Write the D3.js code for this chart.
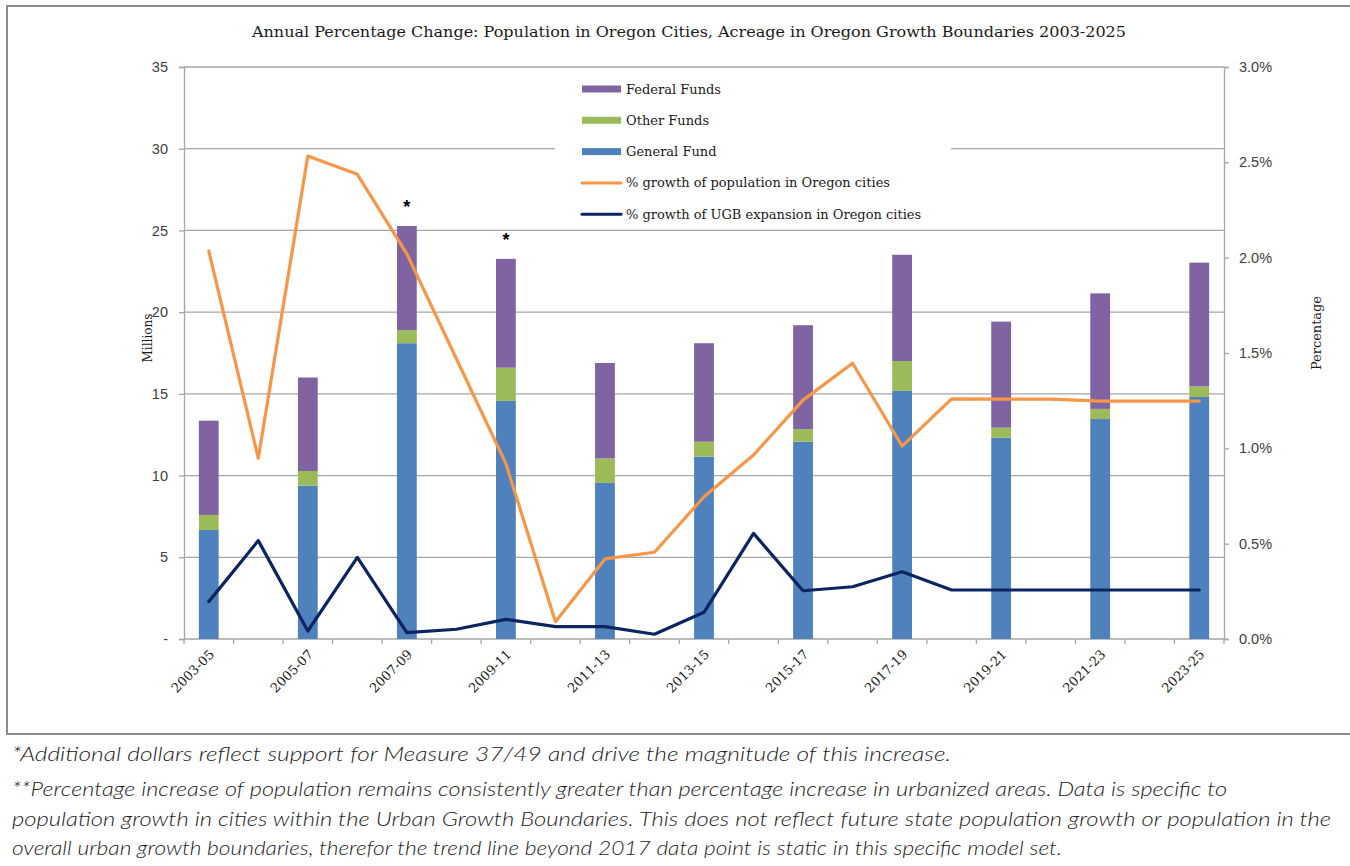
<html>

<head>
  <meta charset="utf-8">
  <script src="https://d3js.org/d3.v7.min.js"></script>
  <style>
    body {
      margin: 0;
      background-color: white;
    }

    .tick text {
      font-family: "Liberation Sans", Arial, sans-serif;
      font-size: 14.5px;
      fill: #404040;
    }

    .serif {
      font-family: "DejaVu Serif", Cambria, serif;
      fill: #1a1a1a;
    }

    .note {
      font-family: Lato, "Open Sans", sans-serif;
      font-style: italic;
      font-weight: 300;
      font-size: 20px;
      fill: #222;
    }
  </style>
</head>

<body>
  <div id="chartDiv"></div>

  <script>
    var width = 1350,
      height = 866;

    // biennium labels (bars sit on every other year slot)
    var bienniums = ["2003-05", "2005-07", "2007-09", "2009-11", "2011-13", "2013-15",
      "2015-17", "2017-19", "2019-21", "2021-23", "2023-25"];

    // stacked funds, millions
    var generalFund = [6.67, 9.38, 18.1, 14.57, 9.55, 11.16, 12.07, 15.18, 12.32, 13.46, 14.81];
    var otherFunds = [0.92, 0.9, 0.8, 2.03, 1.5, 0.91, 0.77, 1.83, 0.61, 0.62, 0.65];
    var federalFunds = [5.77, 5.72, 6.37, 6.66, 5.84, 6.03, 6.36, 6.5, 6.49, 7.07, 7.57];

    // yearly % growth lines, one value per year slot (21 slots)
    var popGrowth = [2.035, 0.948, 2.533, 2.437, 2.02, 1.47, 0.92, 0.091, 0.42, 0.455, 0.746,
      0.965, 1.253, 1.446, 1.012, 1.259, 1.258, 1.258, 1.248, 1.248, 1.248];
    var ugbGrowth = [0.196, 0.516, 0.042, 0.428, 0.033, 0.051, 0.103, 0.065, 0.065, 0.025, 0.14,
      0.554, 0.253, 0.274, 0.353, 0.257, 0.257, 0.257, 0.257, 0.257, 0.257];

    var leftTicks = [0, 5, 10, 15, 20, 25, 30, 35];
    var rightTicks = [0, 0.5, 1.0, 1.5, 2.0, 2.5, 3.0];
    var starred = ["2007-09", "2009-11"];

    var seriesNames = ["General Fund", "Other Funds", "Federal Funds"];
    var seriesCols = {
      "General Fund": "#4f81bd",
      "Other Funds": "#9bbb59",
      "Federal Funds": "#8064a2"
    };
    var popCol = "#f79646",
      ugbCol = "#0b2462",
      gridCol = "#a6a6a6";

    var notes = [
      "*Additional dollars reflect support for Measure 37/49 and drive the magnitude of this increase.",
      "**Percentage increase of population remains consistently greater than percentage increase in urbanized areas. Data is specific to",
      "population growth in cities within the Urban Growth Boundaries. This does not reflect future state population growth or population in the",
      "overall urban growth boundaries, therefor the trend line beyond 2017 data point is static in this specific model set."
    ];
    var noteEnds = [951, 1227, 1331, 1062];

    var plot = { left: 184, right: 1224, top: 67, bottom: 639 };

    var svg = d3.select('#chartDiv').append('svg')
      .attr('width', width)
      .attr('height', height);

    // outer chart frame
    svg.append('rect')
      .attr('x', 7).attr('y', 6)
      .attr('width', 1360).attr('height', 728)
      .attr('fill', 'white')
      .attr('stroke', '#8c8c8c')
      .attr('stroke-width', 2);

    var slots = d3.range(bienniums.length * 2 - 1);

    var x = d3.scaleBand()
      .domain(slots)
      .range([plot.left, plot.right])
      .padding(0);

    var yLeft = d3.scaleLinear().domain([0, 35]).range([plot.bottom, plot.top]);
    var yRight = d3.scaleLinear().domain([0, 3]).range([plot.bottom, plot.top]);

    // gridlines
    svg.append('g')
      .selectAll('line')
      .data(leftTicks.filter(function (d) { return d > 0; }))
      .enter().append('line')
      .attr('x1', plot.left).attr('x2', plot.right)
      .attr('y1', function (d) { return yLeft(d); })
      .attr('y2', function (d) { return yLeft(d); })
      .attr('stroke', gridCol)
      .attr('stroke-width', 1.3);

    // left axis
    var leftAxis = svg.append('g')
      .attr('transform', 'translate(' + plot.left + ',0)')
      .call(d3.axisLeft(yLeft).tickValues(leftTicks).tickSize(5).tickPadding(11)
        .tickFormat(function (d) { return d === 0 ? '-' : d; }));
    leftAxis.selectAll('.domain, line').attr('stroke', gridCol).attr('stroke-width', 1.3);

    // right axis
    var rightAxis = svg.append('g')
      .attr('transform', 'translate(' + plot.right + ',0)')
      .call(d3.axisRight(yRight).tickValues(rightTicks).tickSize(5).tickPadding(10)
        .tickFormat(function (d) { return d.toFixed(1) + '%'; }));
    rightAxis.selectAll('.domain, line').attr('stroke', gridCol).attr('stroke-width', 1.3);

    // bottom axis with ticks between year slots
    var bottomAxis = svg.append('g')
      .attr('transform', 'translate(0,' + plot.bottom + ')');
    bottomAxis.append('line')
      .attr('x1', plot.left).attr('x2', plot.right)
      .attr('stroke', gridCol).attr('stroke-width', 1.3);
    bottomAxis.selectAll('.xtick')
      .data(slots.concat([slots.length]))
      .enter().append('line')
      .attr('class', 'xtick')
      .attr('x1', function (d) { return plot.left + d * x.bandwidth(); })
      .attr('x2', function (d) { return plot.left + d * x.bandwidth(); })
      .attr('y1', 0).attr('y2', 5)
      .attr('stroke', gridCol).attr('stroke-width', 1.3);

    bottomAxis.selectAll('.xlabel')
      .data(bienniums)
      .enter().append('text')
      .attr('class', 'xlabel serif')
      .attr('text-anchor', 'end')
      .attr('dy', '0.35em')
      .attr('transform', function (d, i) {
        var cx = x(i * 2) + x.bandwidth() / 2;
        return 'translate(' + (cx + 3) + ',13) rotate(-45)';
      })
      .style('font-size', '13px')
      .text(function (d) { return d; });

    // stacked bars
    var barRows = bienniums.map(function (b, i) {
      return {
        slot: i * 2,
        name: b,
        "General Fund": generalFund[i],
        "Other Funds": otherFunds[i],
        "Federal Funds": federalFunds[i]
      };
    });

    var stack = d3.stack().keys(seriesNames)(barRows);
    var barW = x.bandwidth() * 0.4;

    svg.append('g')
      .selectAll('g')
      .data(stack)
      .enter().append('g')
      .attr('fill', function (d) { return seriesCols[d.key]; })
      .selectAll('rect')
      .data(function (d) { return d; })
      .enter().append('rect')
      .attr('x', function (d) { return x(d.data.slot) + x.bandwidth() / 2 - barW / 2; })
      .attr('width', barW)
      .attr('y', function (d) { return yLeft(d[1]); })
      .attr('height', function (d) { return yLeft(d[0]) - yLeft(d[1]); });

    // asterisks on the highlighted bars
    svg.append('g')
      .selectAll('text')
      .data(barRows.filter(function (d) { return starred.indexOf(d.name) >= 0; }))
      .enter().append('text')
      .attr('x', function (d) { return x(d.slot) + x.bandwidth() / 2; })
      .attr('y', function (d) {
        return yLeft(d["General Fund"] + d["Other Funds"] + d["Federal Funds"]) - 13;
      })
      .attr('text-anchor', 'middle')
      .style('font-family', '"Liberation Sans", Arial, sans-serif')
      .style('font-weight', 'bold')
      .style('font-size', '18px')
      .text('*');

    // growth lines
    var line = d3.line()
      .x(function (d, i) { return x(i) + x.bandwidth() / 2; })
      .y(function (d) { return yRight(d); });

    svg.append('path')
      .datum(popGrowth)
      .attr('d', line)
      .attr('fill', 'none')
      .attr('stroke', popCol)
      .attr('stroke-width', 3.2)
      .attr('stroke-linejoin', 'round')
      .attr('stroke-linecap', 'round');

    svg.append('path')
      .datum(ugbGrowth)
      .attr('d', line)
      .attr('fill', 'none')
      .attr('stroke', ugbCol)
      .attr('stroke-width', 3.2)
      .attr('stroke-linejoin', 'round')
      .attr('stroke-linecap', 'round');

    // legend
    var legendItems = [
      { name: "Federal Funds", col: seriesCols["Federal Funds"], type: "bar" },
      { name: "Other Funds", col: seriesCols["Other Funds"], type: "bar" },
      { name: "General Fund", col: seriesCols["General Fund"], type: "bar" },
      { name: "% growth of population in Oregon cities", col: popCol, type: "line" },
      { name: "% growth of UGB expansion in Oregon cities", col: ugbCol, type: "line" }
    ];

    var legend = svg.append('g');
    legend.append('rect')
      .attr('x', 555).attr('y', 72)
      .attr('width', 396).attr('height', 154)
      .attr('fill', 'white');

    var legendRow = legend.selectAll('g')
      .data(legendItems)
      .enter().append('g')
      .attr('transform', function (d, i) { return 'translate(582,' + (89 + i * 31.3) + ')'; });

    legendRow.filter(function (d) { return d.type == 'bar'; })
      .append('rect')
      .attr('x', 0).attr('y', -3.5)
      .attr('width', 39).attr('height', 7)
      .attr('fill', function (d) { return d.col; });

    legendRow.filter(function (d) { return d.type == 'line'; })
      .append('line')
      .attr('x1', 0).attr('x2', 39)
      .attr('stroke', function (d) { return d.col; })
      .attr('stroke-width', 3)
      .attr('stroke-linecap', 'round');

    legendRow.append('text')
      .attr('class', 'serif')
      .attr('x', 44)
      .attr('dy', '0.35em')
      .style('font-size', '13px')
      .text(function (d) { return d.name; });

    // title and axis titles
    svg.append('text')
      .attr('class', 'serif')
      .attr('x', 689).attr('y', 37)
      .attr('text-anchor', 'middle')
      .attr('textLength', 874)
      .attr('lengthAdjust', 'spacingAndGlyphs')
      .style('font-size', '14.5px')
      .text("Annual Percentage Change:  Population in Oregon Cities, Acreage in Oregon Growth Boundaries 2003-2025");

    svg.append('text')
      .attr('class', 'serif')
      .attr('transform', 'translate(152,338) rotate(-90)')
      .attr('text-anchor', 'middle')
      .attr('textLength', 49)
      .attr('lengthAdjust', 'spacingAndGlyphs')
      .style('font-size', '12.5px')
      .text('Millions');

    svg.append('text')
      .attr('class', 'serif')
      .attr('transform', 'translate(1321,333) rotate(-90)')
      .attr('text-anchor', 'middle')
      .attr('textLength', 74)
      .attr('lengthAdjust', 'spacingAndGlyphs')
      .style('font-size', '12.5px')
      .text('Percentage');

    // footnotes under the frame
    var noteY = [761, 796, 826, 855];
    svg.append('g')
      .selectAll('text')
      .data(notes)
      .enter().append('text')
      .attr('class', 'note')
      .attr('x', 12)
      .attr('y', function (d, i) { return noteY[i]; })
      .attr('textLength', function (d, i) { return noteEnds[i] - 12; })
      .attr('lengthAdjust', 'spacingAndGlyphs')
      .text(function (d) { return d; });
  </script>
</body>

</html>
